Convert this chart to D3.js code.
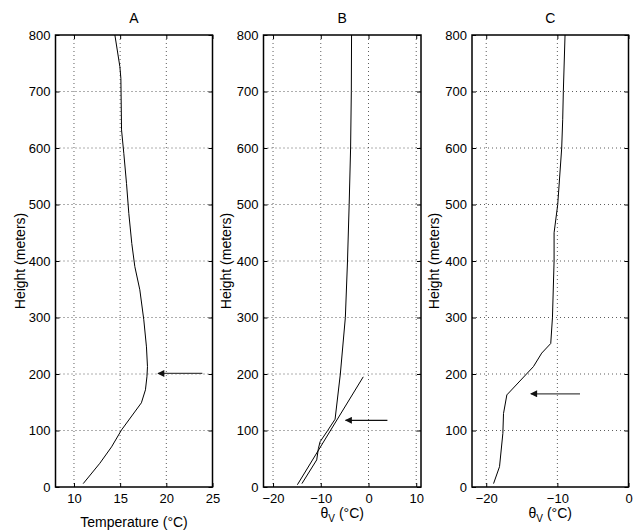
<!DOCTYPE html>
<html><head><meta charset="utf-8">
<script src="https://cdn.jsdelivr.net/npm/d3@7"></script>
<style>body{margin:0;background:#fff}svg{display:block}text{font-family:"Liberation Sans",Arial,sans-serif;fill:#000}</style>
</head><body><svg id="c" width="633" height="532"></svg>
<script>
// ---- data ----
const heightTicks = [0,100,200,300,400,500,600,700,800];
const panelTitles = ["A","B","C"];
// Panel A: temperature profile [T, h]
const tempProfile = [[11.0,6],[12.8,42],[14.07,71],[15.15,101],[17.3,149],[17.74,172],[17.9,195],[17.96,213],[17.85,248],[17.56,296],[17.13,349],[16.59,390],[16.26,431],[15.94,484],[15.69,537],[15.4,590],[15.15,632],[15.08,723],[14.97,744],[14.43,800]];
const tempTicks = [10,15,20,25];
const arrowA = [[23.9,201],[19.1,201]];
// Panel B: theta_v profile and reference line
const thetaBProfile = [[-13.95,6],[-10.85,48],[-10.5,68],[-10.15,80],[-8.55,100],[-7.0,120],[-5.9,200],[-4.85,300],[-4.4,400],[-4.05,500],[-3.75,600],[-3.6,700],[-3.55,800]];
const thetaBLine = [[-14.9,4],[-1.1,195]];
const thetaBTicks = [-20,-10,0,10];
const arrowB = [[3.96,118],[-4.8,118]];
// Panel C: theta_v profile
const thetaCProfile = [[-18.97,6],[-18.13,36],[-17.66,95],[-17.57,130],[-17.1,163],[-13.37,213],[-12.2,237],[-10.93,254],[-10.69,300],[-10.46,400],[-10.46,450],[-9.95,500],[-9.39,600],[-9.25,650],[-9.16,700],[-8.92,800]];
const thetaCTicks = [-20,-10,0];
const arrowC = [[-6.82,165],[-13.73,165]];

const svg = d3.select("#c");
const plotTop = 35, plotBottom = 487;
const y = d3.scaleLinear().domain([0,800]).range([plotBottom, plotTop]);

svg.append("defs").append("marker").attr("id","ah").attr("viewBox","0 0 10 10")
  .attr("refX",9).attr("refY",5).attr("markerWidth",9).attr("markerHeight",7)
  .attr("markerUnits","userSpaceOnUse").attr("orient","auto")
  .append("path").attr("d","M10,5 L0,0 L0,10 Z").attr("fill","#111");

function panel(opts){
  const x = d3.scaleLinear().domain(opts.domain).range([opts.x0, opts.x1]);
  const g = svg.append("g");
  const grid = g.append("g").attr("stroke","#333").attr("stroke-width",0.8).attr("stroke-dasharray","1,3");
  opts.ticks.forEach(t=>{ if(x(t)>opts.x0+1 && x(t)<opts.x1-1) grid.append("line").attr("x1",x(t)).attr("x2",x(t)).attr("y1",plotTop).attr("y2",plotBottom);});
  heightTicks.forEach(t=>{ if(t>0&&t<800) grid.append("line").attr("x1",opts.x0).attr("x2",opts.x1).attr("y1",y(t)).attr("y2",y(t));});
  const ax = d3.axisBottom(x).tickValues(opts.ticks).tickSize(-4).tickPadding(7).tickFormat(d=>d<0?"\u2212"+Math.abs(d):d);
  g.append("g").attr("transform",`translate(0,${plotBottom})`).call(ax);
  const ay = d3.axisLeft(y).tickValues(heightTicks).tickSize(-4).tickPadding(5);
  g.append("g").attr("transform",`translate(${opts.x0},0)`).call(ay);
  g.append("g").attr("transform",`translate(0,${plotTop})`).call(d3.axisTop(x).tickValues(opts.ticks).tickSize(-4).tickFormat(""));
  g.append("g").attr("transform",`translate(${opts.x1},0)`).call(d3.axisRight(y).tickValues(heightTicks).tickSize(-4).tickFormat(""));
  g.selectAll(".domain").remove();
  g.selectAll(".tick line").attr("stroke","#000").attr("stroke-width",1);
  g.selectAll(".tick text").attr("font-size",13).attr("font-family","Liberation Sans, Arial, sans-serif");
  g.append("rect").attr("x",opts.x0).attr("y",plotTop).attr("width",opts.x1-opts.x0).attr("height",plotBottom-plotTop)
    .attr("fill","none").attr("stroke","#000").attr("stroke-width",1.5);
  const line = d3.line().x(d=>x(d[0])).y(d=>y(d[1]));
  opts.series.forEach(s=>g.append("path").attr("d",line(s)).attr("fill","none").attr("stroke","#000").attr("stroke-width",1));
  g.append("path").attr("d",line(opts.arrow)).attr("fill","none").attr("stroke",opts.arrowColor).attr("stroke-width",1.3).attr("marker-end","url(#ah)");
  g.append("text").attr("x",(opts.x0+opts.x1)/2).attr("y",23).attr("text-anchor","middle").attr("font-size",14).text(opts.title);
  g.append("text").attr("transform",`translate(${opts.ylx},261) rotate(-90)`).attr("text-anchor","middle").attr("font-size",14).text("Height (meters)");
  const xl = g.append("text").attr("x",(opts.x0+opts.x1)/2).attr("y",opts.xly).attr("text-anchor","middle").attr("font-size",14);
  if(opts.theta){
    xl.append("tspan").text("\u03B8");
    xl.append("tspan").attr("font-size",10).attr("dy",4).text("V");
    xl.append("tspan").attr("dy",-4).text(" (\u00B0C)");
  } else xl.text("Temperature (\u00B0C)");
}

panel({domain:[8,25], x0:55.5, x1:212.5, ticks:tempTicks, series:[tempProfile], arrow:arrowA, arrowColor:"#444", title:panelTitles[0], ylx:25, xly:527, theta:false});
panel({domain:[-22,11], x0:263.5, x1:421, ticks:thetaBTicks, series:[thetaBProfile, thetaBLine], arrow:arrowB, arrowColor:"#111", title:panelTitles[1], ylx:231, xly:518, theta:true});
panel({domain:[-22,0], x0:472, x1:628.5, ticks:thetaCTicks, series:[thetaCProfile], arrow:arrowC, arrowColor:"#444", title:panelTitles[2], ylx:439, xly:518, theta:true});
</script></body></html>
